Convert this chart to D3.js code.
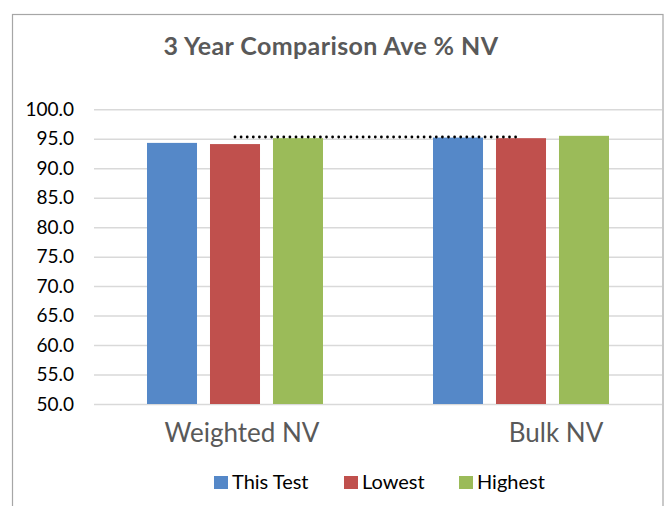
<!DOCTYPE html>
<html lang="en">
<head>
<meta charset="utf-8">
<title>3 Year Comparison Ave % NV</title>
<script src="https://d3js.org/d3.v7.min.js"></script>
<style>
  body { margin: 0; background: #fff; }
  svg { display: block; font-family: Lato, "Open Sans", sans-serif; }
</style>
</head>
<body>
<div id="chart"></div>
<script>
// Data
const categories = ["Weighted NV", "Bulk NV"];
const seriesNames = ["This Test", "Lowest", "Highest"];
const thisTest = [94.3, 95.2];
const lowest = [94.1, 95.1];
const highest = [95.1, 95.5];
const topLine = [95.3, 95.3];
const yTicks = [50, 55, 60, 65, 70, 75, 80, 85, 90, 95, 100];

const colors = ["#5588c8", "#c0504d", "#9bbb59"];
const values = [thisTest, lowest, highest];

// Dimensions
const width = 668;
const height = 506;

const svg = d3.select("#chart")
  .append("svg")
  .attr("width", width)
  .attr("height", height);

svg.append("rect")
  .attr("x", 12.5)
  .attr("y", 14.5)
  .attr("width", 650.5)
  .attr("height", 520)
  .attr("fill", "#fff")
  .attr("stroke", "#a6a6a6")
  .attr("stroke-width", 1.2);

// Title
svg.append("text")
  .attr("x", 331)
  .attr("y", 55)
  .attr("text-anchor", "middle")
  .style("font-size", "25px")
  .style("letter-spacing", "0.4px")
  .style("font-weight", "bold")
  .style("fill", "#595959")
  .text("3 Year Comparison Ave % NV");

// Scales
const x0 = d3.scaleBand()
  .domain(categories)
  .range([92, 664])
  .padding(0);

const x1 = d3.scaleBand()
  .domain(seriesNames)
  .range([0, x0.bandwidth()])
  .paddingInner(0.206)
  .paddingOuter(0.873);

const y = d3.scaleLinear()
  .domain([50, 100])
  .range([404, 109.3]);

// Gridlines
const grid = svg.append("g")
  .attr("transform", "translate(94,0)")
  .call(d3.axisLeft(y).tickValues(yTicks).tickSize(-568).tickFormat(""));
grid.select(".domain").remove();
grid.selectAll(".tick line")
  .attr("stroke", "#d9d9d9")
  .attr("stroke-width", 1.5);

// Y axis labels
const yAxis = svg.append("g")
  .attr("transform", "translate(74,0)")
  .call(d3.axisLeft(y).tickValues(yTicks).tickSize(0).tickPadding(0).tickFormat(d3.format(".1f")));
yAxis.select(".domain").remove();
yAxis.selectAll(".tick text")
  .style("font-family", "Lato, 'Open Sans', sans-serif")
  .style("font-size", "19px")
  .attr("fill", "#000");

// Bars
const rows = categories.map((c, i) => ({
  category: c,
  bars: seriesNames.map((s, j) => ({ series: s, value: values[j][i], color: colors[j] }))
}));

svg.selectAll(".group")
  .data(rows)
  .enter().append("g")
  .attr("class", "group")
  .attr("transform", d => `translate(${x0(d.category)},0)`)
  .selectAll("rect")
  .data(d => d.bars)
  .enter().append("rect")
  .attr("x", d => x1(d.series))
  .attr("width", x1.bandwidth())
  .attr("y", d => y(d.value))
  .attr("height", d => y(50) - y(d.value))
  .attr("fill", d => d.color);

// Dotted line
const line = d3.line()
  .x((d, i) => x0(categories[i]) + x0.bandwidth() / 2)
  .y(d => y(d));

svg.append("path")
  .datum(topLine)
  .attr("d", line)
  .attr("fill", "none")
  .attr("stroke", "#000")
  .attr("stroke-width", 2.8)
  .attr("stroke-linecap", "round")
  .attr("stroke-dasharray", "0,6.1");

// Category labels
const labelShift = [7, 35];
svg.selectAll(".cat")
  .data(categories)
  .enter().append("text")
  .attr("class", "cat")
  .attr("x", (d, i) => x0(d) + x0.bandwidth() / 2 + labelShift[i])
  .attr("y", 442)
  .attr("text-anchor", "middle")
  .style("font-size", "26px")
  .style("fill", "#595959")
  .text(d => d);

// Legend
const legendX = [214, 344, 459];
const legend = svg.selectAll(".legend")
  .data(seriesNames)
  .enter().append("g")
  .attr("class", "legend")
  .attr("transform", (d, i) => `translate(${legendX[i]},476)`);

legend.append("rect")
  .attr("width", 14)
  .attr("height", 13)
  .attr("fill", (d, i) => colors[i]);

legend.append("text")
  .attr("x", 18)
  .attr("y", 13)
  .style("font-size", "20px")
  .style("fill", "#000")
  .text(d => d);
</script>
</body>
</html>
